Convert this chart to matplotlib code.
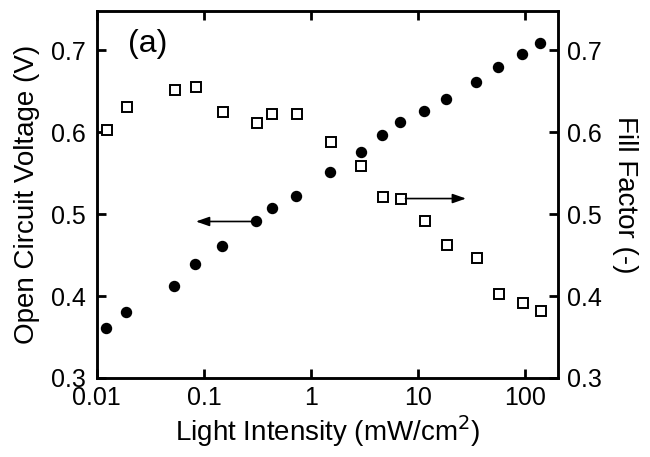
import matplotlib
matplotlib.use("Agg")
import matplotlib.pyplot as plt

plt.rcParams['font.family'] = ['Liberation Sans', 'DejaVu Sans']

# Data
intensity_voc = [0.0123, 0.0187, 0.0525, 0.082, 0.147, 0.308, 0.429, 0.724, 1.50, 2.89,
                 4.58, 6.75, 11.4, 18.2, 34.6, 55.6, 93.8, 137]
voc = [0.361, 0.380, 0.412, 0.439, 0.461, 0.491, 0.507, 0.522, 0.551, 0.576,
       0.596, 0.612, 0.626, 0.641, 0.661, 0.680, 0.696, 0.709]
intensity_ff = [0.0125, 0.019, 0.0536, 0.0836, 0.151, 0.313, 0.435, 0.734, 1.53, 2.93,
                4.64, 6.89, 11.5, 18.5, 35.4, 56.7, 94.4, 139]
ff = [0.603, 0.631, 0.652, 0.655, 0.625, 0.611, 0.622, 0.622, 0.588, 0.559,
      0.521, 0.518, 0.491, 0.462, 0.446, 0.403, 0.391, 0.382]

x_ticks = [0.01, 0.1, 1, 10, 100]
x_ticklabels = ['0.01', '0.1', '1', '10', '100']
y_ticks = [0.3, 0.4, 0.5, 0.6, 0.7]
y_ticklabels = ['0.3', '0.4', '0.5', '0.6', '0.7']

fig = plt.figure(figsize=(6.5, 4.57), dpi=100)
ax = fig.add_axes([0.149, 0.173, 0.709, 0.803])
ax2 = ax.twinx()

ax.plot(intensity_voc, voc, 'o', color='black', markersize=7.2, zorder=3)
ax2.plot(intensity_ff, ff, 's', markerfacecolor='white', markeredgecolor='black',
         markersize=6.6, markeredgewidth=1.4, zorder=3)

ax.set_xscale('log')
ax.set_xlim(0.01, 200)
ax.set_ylim(0.3, 0.748)
ax2.set_ylim(0.3, 0.748)

ax.set_xticks(x_ticks)
ax.set_xticklabels(x_ticklabels)
ax.xaxis.set_minor_locator(matplotlib.ticker.NullLocator())
ax.set_yticks(y_ticks)
ax.set_yticklabels(y_ticklabels)
ax2.set_yticks(y_ticks)
ax2.set_yticklabels(y_ticklabels)

for a in (ax, ax2):
    for s in a.spines.values():
        s.set_linewidth(1.8)

ax.tick_params(axis='x', which='major', direction='in', length=6.5, width=2,
               top=True, labelsize=18, pad=6)
ax.tick_params(axis='y', which='major', direction='in', length=6.5, width=2,
               labelsize=18, pad=8)
ax2.tick_params(axis='y', which='major', direction='in', length=6.5, width=2,
                labelsize=18, pad=7)

ax.set_xlabel('Light Intensity (mW/cm$^2$)', fontsize=20, labelpad=2)
ax.set_ylabel('Open Circuit Voltage (V)', fontsize=20, labelpad=8)
ax2.set_ylabel('Fill Factor (-)', fontsize=20, rotation=270, labelpad=26)

# arrows
arrow_style = '-|>,head_length=0.8,head_width=0.28'
ax.annotate('', xy=(0.084, 0.491), xytext=(0.31, 0.491),
            arrowprops=dict(arrowstyle=arrow_style, color='black', lw=1.2,
                            mutation_scale=10, shrinkA=0, shrinkB=0))
ax2.annotate('', xy=(27.9, 0.519), xytext=(7.6, 0.519),
             arrowprops=dict(arrowstyle=arrow_style, color='black', lw=1.2,
                             mutation_scale=10, shrinkA=0, shrinkB=0))

ax.text(0.067, 0.91, '(a)', transform=ax.transAxes, fontsize=23,
        ha='left', va='center')

fig.savefig('out.png', dpi=100)
